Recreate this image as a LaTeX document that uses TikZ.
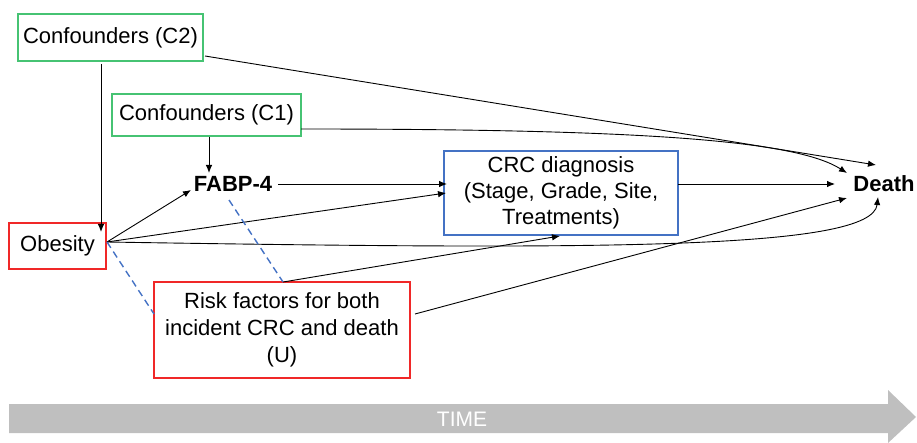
\documentclass[tikz,border=0pt]{standalone}
\usepackage{fontspec}
\setmainfont{Liberation Sans}
\usetikzlibrary{arrows.meta}
\definecolor{cgreen}{RGB}{70,195,115}
\definecolor{cred}{RGB}{240,40,40}
\definecolor{cblue}{RGB}{68,114,196}
\definecolor{cgray}{RGB}{191,191,191}
\tikzset{
  txt/.style={font=\fontsize{22}{26}\selectfont},
  box/.style={draw, line width=1.2pt, txt, align=center, inner sep=0pt},
  gbox/.style={box, draw=cgreen},
  rbox/.style={box, draw=cred},
  bbox/.style={box, draw=cblue},
  arr/.style={line width=0.9pt, -{Latex[length=8pt,width=6.5pt]}},
  dsh/.style={line width=1.4pt, cblue, dash pattern=on 7pt off 4.5pt},
}
\begin{document}
\begin{tikzpicture}[x=1pt,y=-1pt]
\useasboundingbox (0,0) rectangle (917,443);
% nodes
\node[gbox, minimum width=185pt, minimum height=47pt] (c2) at (110.5,37.5) {Confounders (C2)};
\node[gbox, minimum width=189pt, minimum height=42pt] (c1) at (206.5,115) {Confounders (C1)};
\node[rbox, minimum width=97pt, minimum height=46pt] (ob) at (57.5,246) {Obesity};
\node[txt, font=\fontsize{22}{26}\selectfont\bfseries, inner sep=2pt] (fabp) at (233,184) {FABP-4};
\node[bbox, minimum width=234pt, minimum height=84pt] (crc) at (561,193) {CRC diagnosis\\(Stage, Grade, Site,\\Treatments)};
\node[rbox, minimum width=256pt, minimum height=96pt, font=\fontsize{22}{27}\selectfont] (risk) at (282,330) {Risk factors for both\\incident CRC and death\\(U)};
\node[txt, font=\fontsize{22}{26}\selectfont\bfseries, inner sep=2pt] (death) at (884,184) {Death};
% endpoints
\coordinate (c2a) at (101,64);
\coordinate (obtop) at (101,232);
\coordinate (c2b) at (205,56);
\coordinate (d1) at (876,165);
\coordinate (c1b) at (301,129);
\coordinate (d2) at (847,173);
\coordinate (c1a) at (209,137);
\coordinate (fabtop) at (209,173);
\coordinate (obout) at (107,242);
\coordinate (fabin) at (191,190);
\coordinate (crcin2) at (446,193);
\coordinate (fabout) at (278,184);
\coordinate (crcin1) at (447,184);
\coordinate (crcout) at (678,184);
\coordinate (d3) at (835,184);
\coordinate (risktop) at (283,282);
\coordinate (crcbot) at (560,236);
\coordinate (riskout) at (415,314);
\coordinate (d4) at (847,198);
\coordinate (d5) at (878,197);
\coordinate (fabbot) at (229,200);
\coordinate (riskleft) at (154,314);
% connectors
\draw[arr] (c2a) -- (obtop);
\draw[arr] (c2b) -- (d1);
\draw[arr] (c1b) .. controls (640,129) and (795,140) .. (d2);
\draw[arr] (c1a) -- (fabtop);
\draw[arr] (obout) -- (fabin);
\draw[arr] (obout) -- (crcin2);
\draw[arr] (obout) .. controls (600,250) and (872,250) .. (d5);
\draw[arr] (fabout) -- (crcin1);
\draw[arr] (crcout) -- (d3);
\draw[arr] (risktop) -- (crcbot);
\draw[arr] (riskout) -- (d4);
\draw[dsh] (obout) -- (riskleft);
\draw[dsh] (fabbot) -- (risktop);
% time arrow
\fill[cgray] (9,404) -- (888,404) -- (888,390) -- (916,417) -- (888,443) -- (888,433) -- (9,433) -- cycle;
\node[txt, text=white, font=\fontsize{21}{24}\selectfont] (time) at (462,419) {TIME};
\end{tikzpicture}
\end{document}
